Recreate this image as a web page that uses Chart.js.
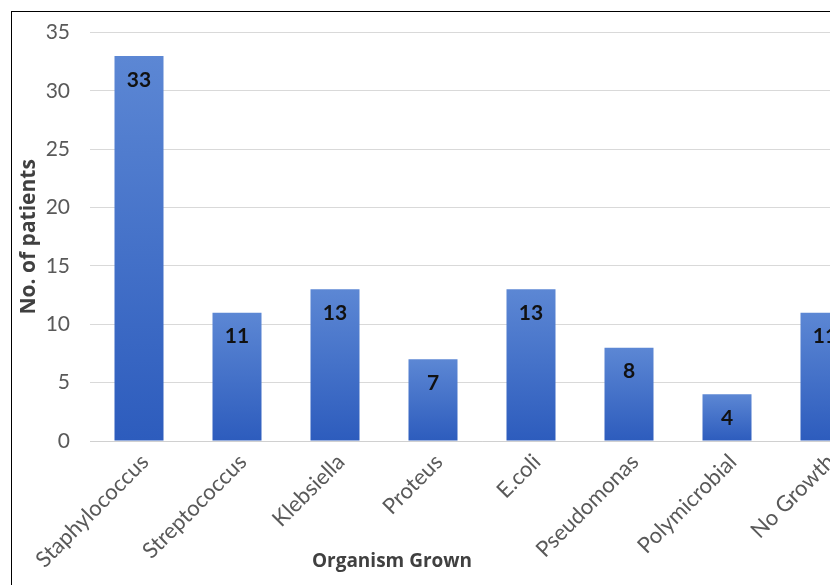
<!DOCTYPE html>
<html>
<head>
<meta charset="utf-8">
<script src="https://cdn.jsdelivr.net/npm/chart.js@4"></script>
<style>
  html, body { margin: 0; padding: 0; background: #fff; }
  #wrap { position: relative; width: 830px; height: 585px; overflow: hidden; background: #fff; }
  #cv { position: absolute; left: 0; top: 0; }
  #frame { position: absolute; left: 11px; top: 11px; width: 900px; height: 700px;
           border-left: 1px solid #000; border-top: 1px solid #000; pointer-events: none; }
  #xtitle { position: absolute; left: 292px; width: 200px; top: 547px; text-align: center;
            font: bold 19px "Open Sans", sans-serif; color: #404040; }
</style>
</head>
<body>
<div id="wrap">
  <canvas id="cv" width="900" height="585"></canvas>
  <div id="frame"></div>
  <div id="xtitle">Organism Grown</div>
</div>
<script>
const categories = ["Staphylococcus", "Streptococcus", "Klebsiella", "Proteus", "E.coli", "Pseudomonas", "Polymicrobial", "No Growth"];
const patients = [33, 11, 13, 7, 13, 8, 4, 11];
const yTicks = [0, 5, 10, 15, 20, 25, 30, 35];
const yAxisTitle = "No. of patients";

function barGradient(ctx) {
  const chart = ctx.chart;
  if (!chart.chartArea || ctx.raw === undefined) return '#3f6fcb';
  const y = chart.scales.y;
  const top = y.getPixelForValue(ctx.raw);
  const bot = y.getPixelForValue(0);
  const g = chart.ctx.createLinearGradient(0, top, 0, bot);
  g.addColorStop(0, '#5c87d4');
  g.addColorStop(1, '#2d5cbd');
  return g;
}

const labelPlugin = {
  id: 'barLabels',
  afterDatasetsDraw(chart) {
    const c = chart.ctx;
    const meta = chart.getDatasetMeta(0);
    c.save();
    c.font = 'bold 21px Lato, sans-serif';
    c.fillStyle = '#111';
    c.textAlign = 'center';
    c.textBaseline = 'middle';
    meta.data.forEach((bar, i) => {
      c.fillText(String(patients[i]), bar.x, bar.y + 24);
    });
    c.restore();
  }
};

new Chart(document.getElementById('cv'), {
  type: 'bar',
  data: {
    labels: categories,
    datasets: [{
      data: patients,
      backgroundColor: barGradient,
      borderWidth: 0,
      categoryPercentage: 1,
      barPercentage: 0.5
    }]
  },
  options: {
    responsive: false,
    animation: false,
    devicePixelRatio: 1,
    layout: { padding: { top: 28, right: 26, bottom: 0, left: 0 } },
    plugins: { legend: { display: false }, tooltip: { enabled: false } },
    scales: {
      x: {
        grid: { display: false, drawTicks: false },
        border: { display: true, color: '#d0d0d0', width: 1 },
        ticks: {
          minRotation: 45, maxRotation: 45, padding: 8, labelOffset: 6,
          color: '#595959',
          font: { family: 'Lato, sans-serif', size: 22 }
        },
        afterFit(s) { s.height = 144; }
      },
      y: {
        min: 0, max: 35,
        afterBuildTicks(s) { s.ticks = yTicks.map(v => ({ value: v })); },
        grid: { color: '#d9d9d9', drawTicks: false },
        border: { display: false },
        ticks: {
          padding: 20, color: '#595959',
          font: { family: 'Lato, sans-serif', size: 21 }
        },
        title: {
          display: true, text: yAxisTitle, color: '#404040',
          font: { family: '"Open Sans", sans-serif', size: 21, weight: 'bold' },
          padding: { top: 16, bottom: 0 }
        },
        afterFit(s) { s.width = 90; }
      }
    }
  },
  plugins: [labelPlugin]
});
</script>
</body>
</html>
